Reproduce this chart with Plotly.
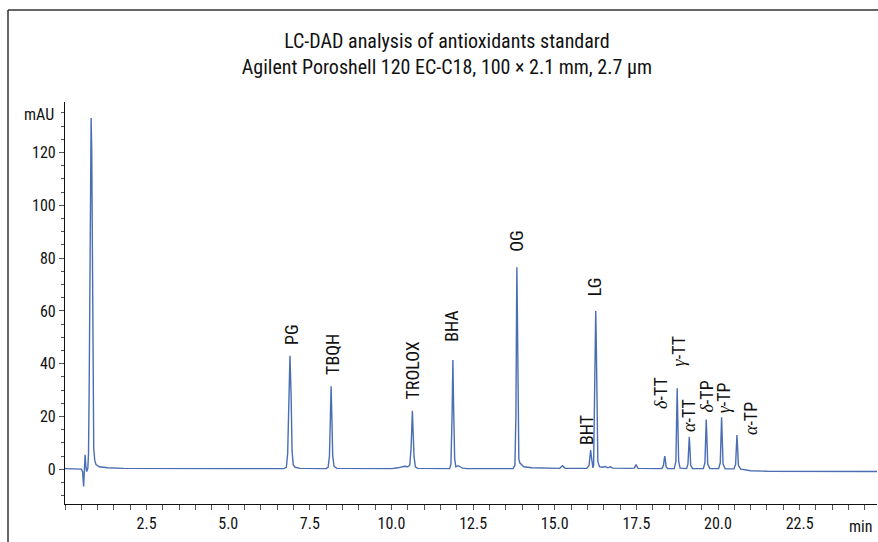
import plotly.graph_objects as go

# Chromatogram trace (time in min, absorbance in mAU)
time_min = [
    0.00, 0.40, 0.50, 0.54, 0.57, 0.595, 0.615, 0.64, 0.665, 0.70,
    0.72, 0.74, 0.76, 0.78, 0.80, 0.82, 0.84, 0.86, 0.88, 0.91, 0.95, 1.05,
    1.3, 1.8, 3.0, 5.0,
    6.70, 6.78, 6.82, 6.855, 6.89, 6.925, 6.955, 6.99, 7.05, 7.2,
    8.00, 8.06, 8.10, 8.125, 8.15, 8.175, 8.20, 8.24, 8.32,
    10.0, 10.2, 10.4, 10.5, 10.56, 10.60, 10.62, 10.64, 10.66, 10.69, 10.73, 10.80,
    11.78, 11.82, 11.855, 11.88, 11.905, 11.935, 11.97, 12.05, 12.10, 12.18, 12.3,
    13.72, 13.78, 13.81, 13.83, 13.84, 13.855, 13.875, 13.90, 13.93, 13.97, 14.05, 14.3, 14.8,
    15.15, 15.24, 15.32,
    15.98, 16.05, 16.08, 16.10, 16.12, 16.15, 16.17,
    16.19, 16.22, 16.24, 16.255, 16.27, 16.29, 16.32, 16.37, 16.45,
    16.55, 16.62, 16.70, 16.78, 17.3, 17.44, 17.49, 17.55,
    18.28, 18.33, 18.355, 18.37, 18.385, 18.41, 18.46,
    18.66, 18.71, 18.73, 18.75, 18.77, 18.795, 18.84,
    19.04, 19.08, 19.10, 19.12, 19.14, 19.165, 19.22,
    19.55, 19.60, 19.62, 19.64, 19.66, 19.685, 19.75,
    20.02, 20.07, 20.09, 20.11, 20.13, 20.155, 20.22,
    20.49, 20.54, 20.56, 20.58, 20.60, 20.625, 20.70,
    21.0, 21.5, 23.0, 24.87,
]
absorbance_mau = [
    0.3, 0.3, 0.1, -1.0, -6.5, 0.0, 5.5, 1.0, -0.8, 0.5,
    6, 30, 85, 125, 133, 120, 70, 25, 8, 3.5, 1.8, 1.0,
    0.6, 0.4, 0.3, 0.3,
    0.3, 0.8, 6, 26, 43, 28, 7, 1.8, 0.8, 0.4,
    0.3, 0.9, 5, 18, 31.5, 19, 5, 1.2, 0.4,
    0.3, 0.6, 1.2, 1.0, 1.6, 8, 15, 22.2, 15, 5, 1.0, 0.4,
    0.3, 2, 20, 41.4, 22, 4, 1.0, 1.4, 1.0, 0.5, 0.3,
    0.3, 1.5, 20, 60, 76.5, 60, 20, 4, 2.5, 2.0, 1.0, 0.6, 0.4,
    0.4, 1.4, 0.4,
    0.4, 1.5, 5, 7.3, 5, 1.0, 0.6,
    1.5, 25, 52, 60, 50, 20, 3, 1.0, 0.8,
    1.1, 0.6, 1.0, 0.5, 0.4, 0.5, 1.8, 0.4,
    0.3, 1.5, 4, 5, 4, 1.0, 0.3,
    0.3, 3, 18, 30.7, 18, 3, 0.5,
    0.3, 2, 8, 12.3, 8, 1.5, 0.3,
    0.3, 2.5, 12, 18.9, 12, 2, 0.3,
    0.3, 2.5, 12, 19.7, 12, 2, 0.2,
    0.2, 2, 8, 13, 8.5, 1.5, 0.1,
    -0.5, -0.7, -0.8, -0.8,
]

# Peak labels (text, time position, mAU where the label starts)
GREEK = '<span style="font-family:Liberation Serif, DejaVu Serif, serif"><i>{}</i></span>'
peak_labels = ["PG", "TBQH", "TROLOX", "BHA", "OG", "BHT", "LG",
               GREEK.format("δ") + "-TT", GREEK.format("γ") + "-TT",
               GREEK.format("α") + "-TT", GREEK.format("δ") + "-TP",
               GREEK.format("γ") + "-TP", GREEK.format("α") + "-TP"]
label_time = [6.94, 8.17, 10.65, 11.85, 13.84, 15.97, 16.22,
              18.26, 18.78, 19.11, 19.65, 20.18, 21.0]
label_mau = [46.4, 35.1, 25.6, 47.5, 81.8, 8.6, 64.8,
             22.2, 38.3, 13.6, 20.6, 20.6, 12.3]

x_tick_vals = [2.5, 5.0, 7.5, 10.0, 12.5, 15.0, 17.5, 20.0, 22.5]
x_tick_text = ["2.5", "5.0", "7.5", "10.0", "12.5", "15.0", "17.5", "20.0", "22.5"]
y_tick_vals = [0, 20, 40, 60, 80, 100, 120]

title_lines = ["LC-DAD analysis of antioxidants standard",
               "Agilent Poroshell 120 EC-C18, 100 × 2.1 mm, 2.7 µm"]

FONT = "Liberation Sans Narrow, Arial Narrow, Roboto Condensed, Liberation Sans, sans-serif"
LINE_COLOR = "#4a6db4"

fig = go.Figure()
fig.add_trace(go.Scatter(x=time_min, y=absorbance_mau, mode="lines",
                         line=dict(color=LINE_COLOR, width=1.4),
                         hoverinfo="skip", showlegend=False))

for txt, t, v in zip(peak_labels, label_time, label_mau):
    fig.add_annotation(x=t, y=v, text=txt, textangle=-90, showarrow=False,
                       xanchor="center", yanchor="bottom",
                       font=dict(family=FONT, size=18, color="#111"))

fig.add_annotation(xref="paper", yref="y", x=0, y=134.2, text="mAU",
                   showarrow=False, xanchor="right", yanchor="middle", xshift=-9,
                   font=dict(family=FONT, size=16, color="#111"))
fig.add_annotation(xref="x", yref="paper", x=24.37, y=0, text="min",
                   showarrow=False, xanchor="center", yanchor="top", yshift=-11,
                   font=dict(family=FONT, size=16, color="#111"))

# outer frame (top and left edges)
fig.add_shape(type="line", xref="paper", yref="paper", x0=-0.0702, x1=1.002,
              y0=1.2289, y1=1.2289, line=dict(color="#333", width=1.5))
fig.add_shape(type="line", xref="paper", yref="paper", x0=-0.0702, x1=-0.0702,
              y0=1.2289, y1=-0.1, line=dict(color="#333", width=1.5))

fig.update_layout(
    width=878, height=542,
    margin=dict(l=65, r=1, t=102, b=38),
    paper_bgcolor="white", plot_bgcolor="white",
    font=dict(family=FONT, size=16, color="#111"),
    title=dict(text="<br>".join(title_lines), x=0.509, xanchor="center",
               xref="container", yref="container", y=1 - 48 / 542, yanchor="middle",
               font=dict(family=FONT, size=20, color="#111")),
    xaxis=dict(range=[0, 24.87], showgrid=False, zeroline=False,
               showline=True, linecolor="#111", linewidth=1.2,
               tickmode="array", tickvals=x_tick_vals, ticktext=x_tick_text,
               ticks="outside", ticklen=5, tickcolor="#555", tickwidth=1,
               minor=dict(dtick=0.5, tick0=0, ticks="outside", ticklen=5,
                          tickcolor="#555", tickwidth=1, showgrid=False),
               tickfont=dict(family=FONT, size=16, color="#111")),
    yaxis=dict(range=[-13.1, 139.1], showgrid=False, zeroline=False,
               showline=True, linecolor="#111", linewidth=1.2,
               tickmode="array", tickvals=y_tick_vals,
               ticks="outside", ticklen=5, tickcolor="#555", tickwidth=1,
               minor=dict(dtick=5, tick0=0, ticks="outside", ticklen=3,
                          tickcolor="#555", tickwidth=1, showgrid=False),
               tickfont=dict(family=FONT, size=16, color="#111")),
)

fig.write_html("out.html")
